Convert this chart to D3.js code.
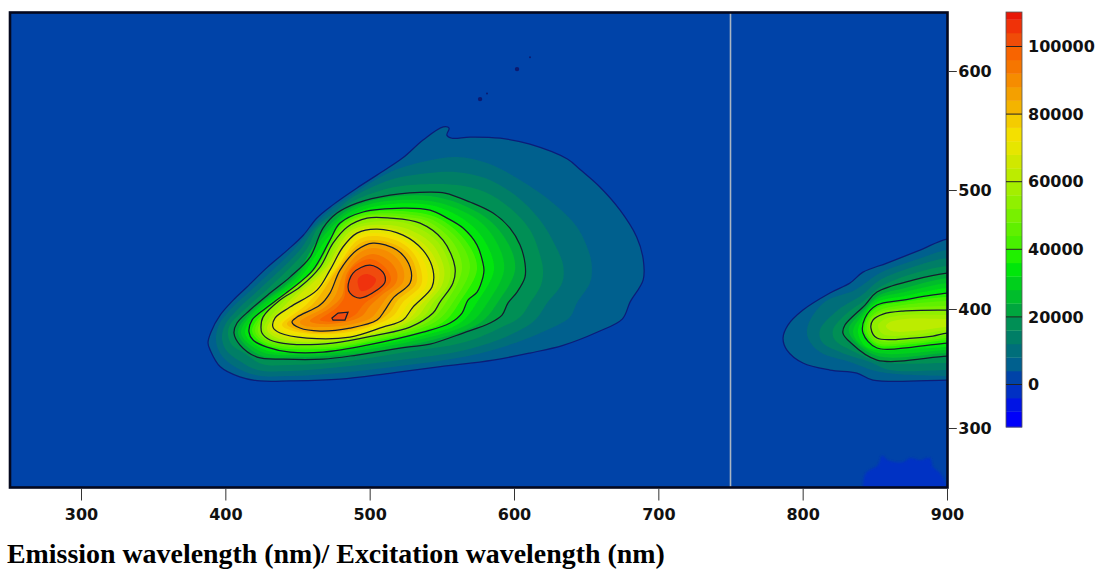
<!DOCTYPE html>
<html><head><meta charset="utf-8">
<script src="https://cdn.jsdelivr.net/npm/d3@7"></script>
<style>html,body{margin:0;padding:0;background:#fff;overflow:hidden}svg{display:block}</style>
</head><body><svg id="c" width="1102" height="571"></svg>
<script>
// --- tick values
const emissionTicks=[300,400,500,600,700,800,900];
const excitationTicks=[300,400,500,600];
const colorTicks=[0,20000,40000,60000,80000,100000];
const titleText="Emission wavelength (nm)/ Excitation wavelength (nm)";
const scatterLine=750;
// --- colour bands (lower bound of each band, and its colour)
const bandFloors=[-12000,-8000,-4000,0,4000,8000,12000,16000,20000,24000,28000,32000,36000,40000,44000,48000,52000,56000,60000,64000,68000,72000,76000,80000,84000,88000,92000,96000,100000,104000,108000];
const bandColors=["#0000fa","#0014e4","#0030c4","#0043a8","#00608e","#006e7a","#007e66","#008f55","#00a63e","#00bd2c","#00d01c","#00e60a","#20f000","#48f000","#60f000","#78f000","#90f000","#a4ee00","#bcec00","#d0e800","#e6e600","#f4e000","#f4cc00","#f4b400","#f4a000","#f68c00","#f67600","#f86400","#f04c08","#f03208","#e81808"];
const colorMin=-12600, colorMax=110200;
// --- main fluorescence peak: isolines [emission nm, excitation nm]
const main04=[[388,371.5],[390,380.5],[396.5,395],[405.5,407.5],[415,418.5],[429,435],[443,449.5],[454,462],[463.5,476.5],[474.5,487.5],[491,501.5],[505,512.5],[523,527],[537,542],[551,553],[555,552],[553.5,546],[557,543.5],[569.5,544.5],[590.5,543.5],[611,538.5],[637,526],[646,517],[659.5,502.5],[673.5,483],[685,460.5],[689.5,442],[689.5,424.5],[680.5,406],[675,391.5],[657.5,380.5],[634,369.5],[611,363],[585.5,357],[549,351.5],[514,346],[479.5,341],[445,339.5],[424,339.5],[410,343],[396.5,351.5],[389.5,365.5]];
const main08=[[393.5,374],[395.5,386.5],[403,399],[421.5,420],[447,449.5],[460,468],[474.5,484.8],[486.5,495],[514,515],[542,525],[560.5,527.7],[581.3,522.6],[604.2,508.3],[627,489],[643.6,468.9],[652.6,445.3],[654,432.7],[652.6,421.8],[643.6,405],[638.8,393.2],[622.9,382.3],[592.4,368],[564.7,359.6],[521,352],[479.5,346.2],[444.8,343.6],[420.6,344.5],[404.6,352.9],[396.3,363]];
const main12=[[397.7,375.6],[399.8,386.5],[408.1,399.1],[426.8,420.1],[451.7,449.5],[462.1,468],[476.7,482.3],[486.4,492.4],[514.1,508.3],[541.8,514.2],[560.5,515],[579.9,510],[600.7,495.7],[618,474.7],[628.4,453.7],[634,436.9],[633.3,421.8],[622.9,405],[614.6,390.7],[597.2,378.1],[566.1,365.5],[521,357.1],[479.5,351.2],[444.8,347.9],[422.6,348.7],[408.8,357.1],[400.5,365.5]];
const main16=[[401.9,378.1],[403.2,386.5],[413,399.1],[432.3,420.1],[455.9,449.5],[464.2,468],[478.1,479.8],[486.4,489],[514.1,501.6],[541.8,505],[560.5,504.1],[579.9,498.3],[597.2,484.8],[611.1,466.3],[618,445.3],[620.1,432.7],[618.7,420.1],[611.1,405],[604.2,393.2],[590.3,384],[566.1,372.2],[521,363],[479.5,355.4],[444.8,352.9],[425.4,353.7],[413,363],[404.6,369.7]];
const main20=[[406,379.8],[408.1,388.2],[417.1,399.1],[431,413.4],[444.8,426.8],[458.7,443.6],[467.7,468],[477.4,480.6],[491.2,489],[514.1,495.7],[541.8,498.3],[552.2,497.4],[569.5,489.9],[585.5,480.6],[597.2,468],[604.2,453.7],[607.6,438.6],[607.6,426.8],[602.1,414.2],[595.8,405],[591.7,394.9],[583.4,388.2],[564.7,379.8],[541.8,370.5],[525.9,368],[491.2,361.3],[467.7,357.9],[440,357.9],[422,359.6],[410.2,369.7]];
const main24=[[408.8,379.8],[419.2,399.1],[446.9,426],[469.1,466.3],[491.9,487.3],[541.8,494.9],[579.9,477.3],[596.5,453.7],[600.7,432.7],[588.9,405.8],[576.4,388.2],[540.4,373.1],[493.3,363],[451.7,359.6],[424,361.3]];
const main28=[[410.9,379.8],[421.3,399.1],[449,426],[470.4,464.6],[493.3,485.7],[541.8,490.7],[575,474.7],[588.9,453.7],[593.1,432.7],[582,405.8],[569.5,388.2],[539,375.6],[494.7,365.5],[451.7,361.3],[425.4,363.8]];
const main32=[[413.6,379.8],[424,398.3],[451,425.2],[472.5,462.1],[494.7,483.1],[541.8,487.3],[569.5,471.4],[581.3,453.7],[586.1,432.7],[575,406.7],[562.6,388.2],[538.3,378.1],[496.8,368],[451.7,363],[427.5,365.5]];
const main36=[[416.4,380.6],[418.5,390.7],[431,403.3],[444.8,415.9],[460.7,432.7],[472.5,457.9],[479.5,472.2],[495.4,481.5],[523.1,484.8],[541.8,483.1],[553.6,476.4],[564.7,468],[574.4,453.7],[578.5,438.6],[579.2,432.7],[578.5,426.8],[574.4,414.2],[568.1,407.5],[564,396.6],[555.7,388.2],[537,380.6],[498.2,369.7],[467.7,363.8],[444.8,363.8],[428.9,368],[419.2,373.9]];
const main40=[[418.5,381.5],[432.3,404.1],[462.1,433.6],[480.1,471.4],[496.1,480.6],[523.1,482.3],[548.7,475.6],[568.1,454.6],[574.4,433.6],[563.3,407.5],[550.1,388.2],[500.2,372.2],[469.1,366.3],[428.9,369.7]];
const main44=[[420.6,381.5],[434.4,405.8],[462.8,434.4],[481.5,470.5],[496.8,478.9],[523.1,479.8],[543.9,474.7],[562.6,456.2],[569.5,434.4],[558.4,406.7],[545.3,389],[501.6,373.9],[471.1,368],[429.6,371.4]];
const main48=[[422.6,381.5],[435.8,406.7],[464.2,435.2],[482.9,469.7],[497.5,478.1],[523.1,477.3],[539.7,473.9],[557,457.1],[564,434.4],[553.6,406.7],[540.4,389],[503.7,376.4],[472.5,369.7],[430.3,373.1]];
const main52=[[424.7,384.8],[426.1,393.2],[437.9,407.5],[451.7,418.4],[465.6,435.2],[474.6,455.4],[484.3,468.8],[498.2,476.4],[514.1,476.4],[534.9,472.2],[550.8,457.9],[559.1,435.2],[557.7,421.8],[548.7,405.8],[543.9,396.6],[528,384.8],[505.1,378.1],[474.6,371.4],[444.8,370.5],[431,373.9],[425.4,379.8]];
const main56=[[426.8,383.2],[440.7,406.7],[467,434.4],[485.7,467.2],[514.1,473.9],[532.8,468.8],[547.3,456.2],[555.7,434.4],[554.3,420.9],[543.9,405],[538.3,394.9],[523.1,384.8],[500.2,377.3],[472.5,372.2],[444.1,372.2],[432.3,375.6]];
const main60=[[428.9,383.2],[443.4,405.8],[469.1,434.4],[487.8,466.3],[514.1,470.5],[531.4,464.6],[543.9,453.7],[551.5,434.4],[550.1,420.1],[539.7,404.1],[533.5,394.1],[519,384.8],[495.4,377.3],[470.4,373.1],[446.2,373.1],[434.4,376.4]];
const main64=[[431,383.2],[445.5,405],[470.4,433.6],[489.2,464.6],[514.1,468],[529.3,461.3],[540.4,451.2],[548,433.6],[546.7,419.3],[534.9,402.5],[528,392.4],[514.1,384.8],[491.2,376.4],[467.7,374.7],[447.6,374.7],[436.5,378.1]];
const main68=[[433,384.8],[434.4,392.4],[444.8,401.6],[463.5,415.9],[472.5,432.7],[481.5,452.1],[491.2,463.8],[505.1,467.2],[523.1,462.1],[536.9,449.5],[543.9,432.7],[543.2,418.4],[530,401.6],[523.1,390.7],[509.2,384.8],[486.4,376.4],[456.6,375.6],[437.9,379.8]];
const main72=[[436.5,384.8],[452.4,404.1],[473.9,432.7],[491.9,460.4],[504.4,463.8],[521.7,458.8],[533.5,447.8],[539.7,432.7],[539,419.3],[526.6,404.1],[519.6,392.4],[507.9,386.5],[486.4,378.1],[458.7,377.3],[441.4,380.6]];
const main76=[[439.3,386.5],[456.6,404.1],[476,432.7],[491.9,457.9],[503.7,461.3],[521,456.2],[530.7,446.2],[535.6,432.7],[535.6,420.1],[523.1,405.8],[516.9,394.9],[507.2,388.2],[486.4,380.6],[460.7,378.9],[444.8,382.3]];
const main80=[[442.7,387.3],[460.7,404.1],[477.4,432.7],[492.6,454.6],[503,457.9],[519.6,452.9],[528,444.5],[532.1,432.7],[532.1,421],[519.6,407.5],[514.1,397.4],[505.8,389.9],[486.4,382.3],[463.5,379.8],[448.3,383.2]];
const main84=[[446.2,389],[449.7,393.2],[465.6,403.3],[472.5,413.4],[479.5,432.7],[491.2,449.5],[502.3,455.4],[518.9,449.5],[528,435.2],[528,421.8],[516.2,409.2],[510.6,399.1],[505.1,390.7],[486.4,384],[465.6,381.5],[451.7,384]];
const main88=[[451.7,389],[469.1,401.6],[476,410.9],[482.2,431],[491.9,446.2],[502.3,451.2],[515.5,446.2],[523.1,434.4],[523.1,422.6],[512.7,410.9],[505.8,399.1],[500.9,392.4],[485,386.5],[467,384.8],[455.2,385.7]];
const main92=[[458.7,389.9],[472.5,400.8],[480.8,410.9],[484.3,430.2],[493.3,442],[502.3,446.2],[512.7,441.1],[518.9,431],[518.2,421.8],[508.5,411.7],[500.2,402.5],[494.7,394.1],[482.9,389],[467,387.3]];
const main96=[[465.6,390.7],[476,399.9],[482.2,409.2],[483.6,422.6],[487.8,434.4],[500.2,442],[510.6,435.2],[514.8,424.3],[508.5,415.1],[496.8,405],[489.8,394.9],[479.5,389.9]];
const main100=[[485,418.4],[488.5,430.2],[500.2,436.9],[509.2,431],[510.6,422.6],[505.1,415.9],[493.3,409.2],[486.4,413.4]];
const main100b=[[473.9,392.4],[478.1,396.6],[485,397.4],[482.9,390.7],[474.6,390.7]];
const main104=[[491.9,425.2],[497.5,429.4],[504.4,425.2],[501.6,418.4],[494,415.1]];
// --- second-order peak at the right edge
const side04=[[900,458.8],[881.3,449.5],[858.4,438.6],[841.8,431],[832.8,421.8],[818.9,413.4],[800.2,399.1],[789.8,386.5],[786.4,375.6],[789.1,365.5],[800.2,354.6],[818.9,348.7],[837.6,346.2],[848.7,340.3],[900,340.3]];
const side08=[[900,449.5],[877.8,441.1],[853.6,430.2],[836.2,415.9],[815.5,406],[803.7,386.5],[803.7,375.6],[812,363.8],[832.8,355.4],[853.6,347],[900,343.6]];
const side12=[[900,442.8],[874.4,434.4],[853.6,424.3],[841.1,411.7],[824.5,399.1],[812,382.3],[813.4,372.2],[825.9,363.8],[846.6,355.4],[860.5,348.7],[900,348.7]];
const side16=[[900,436.1],[875.7,429.4],[853.6,418.4],[843.2,407.5],[829.3,394.9],[821,382.3],[822.4,373.9],[836.2,363.8],[853.6,355.4],[900,354.6]];
const side20=[[900,430.2],[876.4,424.3],[851.5,414.3],[843.2,403.3],[829.3,386.5],[827.9,379.8],[832.8,372.2],[851.5,357.1],[900,360.4]];
const side24=[[900,426],[870.9,417.6],[852.2,410.9],[841.8,398.3],[832.1,384],[834.2,375.6],[852.2,360.4],[900,363]];
const side28=[[900,421.8],[870.9,414.2],[851.5,408.3],[842.5,396.6],[834.9,381.5],[838.3,372.2],[852.2,363],[900,365.5]];
const side32=[[900,417.6],[870.9,410.9],[851.5,405.8],[842.5,394.1],[838.3,380.6],[843.2,368.9],[852.2,365.5],[900,368]];
const side36=[[900,413.4],[869.5,407.5],[851.5,403.3],[843.2,392.4],[841.8,379.8],[851.5,367.2],[876.4,368],[900,371.4]];
const side40=[[900,410],[869.5,405.8],[852.2,401.6],[844.6,392.4],[843.2,380.6],[851.5,369.7],[876.4,370.5],[900,373.9]];
const side44=[[900,406.7],[869.5,403.3],[853.6,399.1],[846,391.5],[844.6,381.5],[851.5,371.4],[876.4,372.2],[900,375.6]];
const side48=[[900,402.5],[869.5,400.8],[854.3,397.4],[847.3,391.6],[846,383.2],[851.5,373.9],[876.4,373.9],[900,378.1]];
const side52=[[900,399.1],[869.5,398.3],[855.7,395.7],[848.7,390.7],[847.3,384],[851.5,375.6],[876.4,375.6],[890.3,377.3],[900,379.8]];
const side56=[[900,394.9],[870.9,394.9],[857,391.5],[852.2,385.9],[855.7,379],[876.4,378.1],[900,382.3]];
const side60=[[900,391.6],[870.9,391.6],[860.5,389],[857.7,385.6],[861.9,381.5],[877.8,381.5],[900,384.8]];
// --- weak patch below zero and isolated specks
const lowPatch=[[842,240],[841.8,250.4],[843.8,262.1],[852.2,268.9],[855,276.9],[859.1,273],[869.5,271.4],[874.4,274.7],[881.3,273],[888.2,274.7],[890.3,267.2],[895.1,262.1],[900,250],[900,240]];
const specks=[[602.1,601.6,2.2],[611.1,611.6,1],[576.5,576.4,2.2],[581.3,581.1,1]];

const mainIsolines=[[4000,main04],[8000,main08],[12000,main12],[16000,main16],[20000,main20],[24000,main24],[28000,main28],[32000,main32],[36000,main36],[40000,main40],[44000,main44],[48000,main48],[52000,main52],[56000,main56],[60000,main60],[64000,main64],[68000,main68],[72000,main72],[76000,main76],[80000,main80],[84000,main84],[88000,main88],[92000,main92],[96000,main96],[100000,main100],[100000,main100b],[104000,main104]];
const sideIsolines=[[4000,side04],[8000,side08],[12000,side12],[16000,side16],[20000,side20],[24000,side24],[28000,side28],[32000,side32],[36000,side36],[40000,side40],[44000,side44],[48000,side48],[52000,side52],[56000,side56],[60000,side60]];
const labelledLevels=[4000,20000,36000,52000,68000,84000,100000];

const x=d3.scaleLinear().domain([300,900]).range([81,947]);
const y=d3.scaleLinear().domain([300,600]).range([428,71]);
const cy=d3.scaleLinear().domain([0,100000]).range([384.5,46.5]);
const color=d3.scaleThreshold().domain(bandFloors.slice(1)).range(bandColors);
const svg=d3.select("#c");
const L=10,R=947.5,T=12.5,B=487.5;
const defs=svg.append("defs");
defs.append("clipPath").attr("id","plot").append("rect").attr("x",L).attr("y",T).attr("width",R-L).attr("height",B-T);
defs.append("filter").attr("id","soft").append("feGaussianBlur").attr("stdDeviation",0.7);
defs.append("filter").attr("id","soft2").append("feGaussianBlur").attr("stdDeviation",1.2);

const ring=d3.line().x(d=>x(d[0])).y(d=>y(d[1])).curve(d3.curveCatmullRomClosed.alpha(0.5));
const poly=d3.line().x(d=>x(d[0])).y(d=>y(d[1])).curve(d3.curveLinearClosed);
const extend=r=>[...r,[915,r[r.length-1][1]],[915,r[0][1]]];
const g=svg.append("g").attr("clip-path","url(#plot)");
g.append("rect").attr("x",L).attr("y",T).attr("width",R-L).attr("height",B-T).attr("fill",color(2000));
g.append("path").datum(lowPatch).attr("d",ring).attr("fill",color(-2000)).attr("filter","url(#soft2)");
const sideRows=sideIsolines.map(([v,r])=>[v,extend(r)]);
const bands=g.append("g").attr("filter","url(#soft)");
bands.selectAll("path.m").data(mainIsolines).join("path").attr("class","m")
  .attr("d",d=>d[1]===main100b?poly(d[1]):ring(d[1])).attr("fill",d=>color(d[0]));
bands.selectAll("path.s").data(sideRows).join("path").attr("class","s")
  .attr("d",d=>ring(d[1])).attr("fill",d=>color(d[0]));
const isLabelled=d=>labelledLevels.includes(d[0]);
g.selectAll("path.ml").data(mainIsolines.filter(isLabelled)).join("path").attr("class","ml")
  .attr("d",d=>d[1]===main100b?poly(d[1]):ring(d[1])).attr("fill","none")
  .attr("stroke",d=>d[0]===4000?"#0b1c78":"#141c30").attr("stroke-width",1.25);
g.selectAll("path.sl").data(sideRows.filter(isLabelled)).join("path").attr("class","sl")
  .attr("d",d=>ring(d[1])).attr("fill","none")
  .attr("stroke",d=>d[0]===4000?"#0b1c78":"#141c30").attr("stroke-width",1.25);
g.selectAll("circle").data(specks).join("circle").attr("cx",d=>x(d[0])).attr("cy",d=>y(d[1])).attr("r",d=>d[2]).attr("fill","#0c1a70");
g.append("line").attr("x1",x(scatterLine)).attr("x2",x(scatterLine)).attr("y1",T).attr("y2",B).attr("stroke","#a9b6c4").attr("stroke-width",1.6);
svg.append("rect").attr("x",L).attr("y",T).attr("width",R-L).attr("height",B-T).attr("fill","none").attr("stroke","#04081e").attr("stroke-width",2.6);

const font='"DejaVu Sans",sans-serif';
function styleAxis(a){a.select(".domain").remove();a.selectAll("line").attr("stroke","#333");a.selectAll("text").attr("font-family",font).attr("font-weight","bold").attr("font-size","16px").attr("fill","#111");}
svg.append("g").attr("transform",`translate(0,${B+1})`).call(d3.axisBottom(x).tickValues(emissionTicks).tickSize(12).tickPadding(8.5).tickFormat(d3.format("d"))).call(styleAxis);
svg.append("g").attr("transform",`translate(${R+1.3},0)`).call(d3.axisRight(y).tickValues(excitationTicks).tickSize(8).tickPadding(1.5).tickFormat(d3.format("d"))).call(styleAxis);

// colour bar
const barX=1006,barW=16;
const barBands=bandFloors.map((f,i)=>({lo:i===0?colorMin:f,hi:i===bandFloors.length-1?colorMax:bandFloors[i+1],c:bandColors[i]}));
const bar=svg.append("g");
bar.selectAll("rect").data(barBands).join("rect").attr("x",barX).attr("width",barW)
  .attr("y",d=>cy(d.hi)).attr("height",d=>cy(d.lo)-cy(d.hi)+0.3).attr("fill",d=>d.c);
bar.append("rect").attr("x",barX).attr("y",cy(colorMax)).attr("width",barW).attr("height",cy(colorMin)-cy(colorMax)).attr("fill","none").attr("stroke","#555").attr("stroke-width",0.8);
bar.selectAll("line").data(colorTicks).join("line").attr("x1",barX).attr("x2",barX+barW).attr("y1",d=>cy(d)).attr("y2",d=>cy(d)).attr("stroke","#222").attr("stroke-width",1);
svg.append("g").attr("transform",`translate(${barX+barW},0)`).call(d3.axisRight(cy).tickValues(colorTicks).tickSize(0).tickPadding(6).tickFormat(d3.format("d"))).call(styleAxis);

svg.append("text").attr("x",7).attr("y",563).text(titleText).attr("font-family",'"Liberation Serif",serif').attr("font-weight","bold").attr("font-size","27.9px").attr("fill","#000");
</script></body></html>
